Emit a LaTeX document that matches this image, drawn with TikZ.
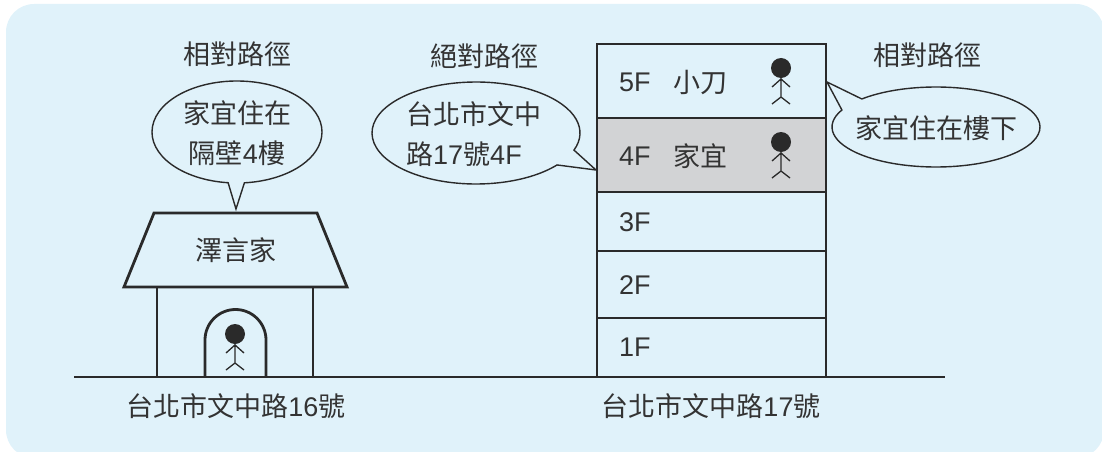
\documentclass[tikz,border=0pt]{standalone}
\usepackage{fontspec}
\setmainfont{Liberation Sans}
\newfontfamily\cjk{Noto Sans CJK TC}
\definecolor{bgblue}{RGB}{224,242,250}
\definecolor{floorgray}{RGB}{210,211,213}
\definecolor{ink}{RGB}{42,42,42}
\definecolor{txt}{RGB}{51,51,51}
\tikzset{
  label/.style={text=txt,inner sep=0pt,font=\fontsize{27}{40}\selectfont},
  bubble/.style={draw=ink,line width=1.4pt,line join=miter},
  heavy/.style={draw=ink,line width=2.8pt},
  person/.pic={
    \fill[ink] (0,0) circle[radius=10];
    \draw[ink,line width=1.3pt] (0,-10) -- (0,-29)
      (-9,-19) -- (0,-11) -- (9,-19)
      (-9,-36) -- (0,-29) -- (9,-36);
  }
}
\begin{document}
\begin{tikzpicture}[x=1pt,y=1pt]
\useasboundingbox (0,0) rectangle (1102,-452);
\fill[bgblue,rounded corners=28] (6,-4) rectangle (1104,-458);

% ground
\draw[ink,line width=2pt] (74,-377) -- (945,-377);

% ---- house ----
\draw[heavy,line join=miter] (154,-213) -- (317,-213) -- (347,-287) -- (124,-287) -- cycle;
\draw[heavy] (157,-287) -- (157,-377) (313,-287) -- (313,-377);
\draw[heavy] (205,-377) -- (205,-340) arc[start angle=180,end angle=0,radius=30.5] -- (266,-377);
\pic at (235,-334) {person};
\node[label] (roof) at (236,-250) {\cjk 澤言家};
\node[label] (addr16) at (236,-406) {{\cjk 台北市文中路}16{\cjk 號}};

% left bubble
\coordinate (tipL) at (236,-209);
\draw[bubble] (237,-132) ++(-96:85 and 51)
  arc[start angle=-96,end angle=-445,x radius=85,y radius=51] -- (tipL) -- cycle;
\node[label,align=center] (bubL) at (237,-133) {{\cjk 家宜住在}\\{\cjk 隔壁}4{\cjk 樓}};
\node[label] (titleL) at (237,-54) {\cjk 相對路徑};

% ---- building ----
\fill[floorgray] (597,-118) rectangle (826,-192);
\draw[heavy] (597,-44) rectangle (826,-377);
\draw[heavy] (597,-118) -- (826,-118) (597,-192) -- (826,-192)
  (597,-251) -- (826,-251) (597,-318) -- (826,-318);
\node[label,anchor=west] (f5) at (619,-82) {5F};
\node[label,anchor=west] (n5) at (673,-82) {\cjk 小刀};
\node[label,anchor=west] (f4) at (619,-156) {4F};
\node[label,anchor=west] (n4) at (673,-156) {\cjk 家宜};
\node[label,anchor=west] (f3) at (619,-222) {3F};
\node[label,anchor=west] (f2) at (619,-285) {2F};
\node[label,anchor=west] (f1) at (619,-347) {1F};
\pic at (781,-68) {person};
\pic at (781,-142) {person};
\node[label] (addr17) at (711,-406) {{\cjk 台北市文中路}17{\cjk 號}};

% middle bubble
\coordinate (tipM) at (596,-170);
\draw[bubble] (476,-133) ++(-38.8:104 and 51)
  arc[start angle=-38.8,end angle=-379.6,x radius=104,y radius=51] -- (tipM) -- cycle;
\node[label,align=left,anchor=west] (bubM) at (406,-134) {{\cjk 台北市文中}\\{\cjk 路}17{\cjk 號}4F};
\node[label] (titleM) at (484,-56) {\cjk 絕對路徑};

% right bubble
\coordinate (tipR) at (827,-82);
\draw[bubble] (936,-127) ++(-224.5:104 and 40)
  arc[start angle=-224.5,end angle=-565.2,x radius=104,y radius=40] -- (tipR) -- cycle;
\node[label] (bubR) at (936,-128) {\cjk 家宜住在樓下};
\node[label] (titleR) at (927,-55) {\cjk 相對路徑};
\end{tikzpicture}
\end{document}
